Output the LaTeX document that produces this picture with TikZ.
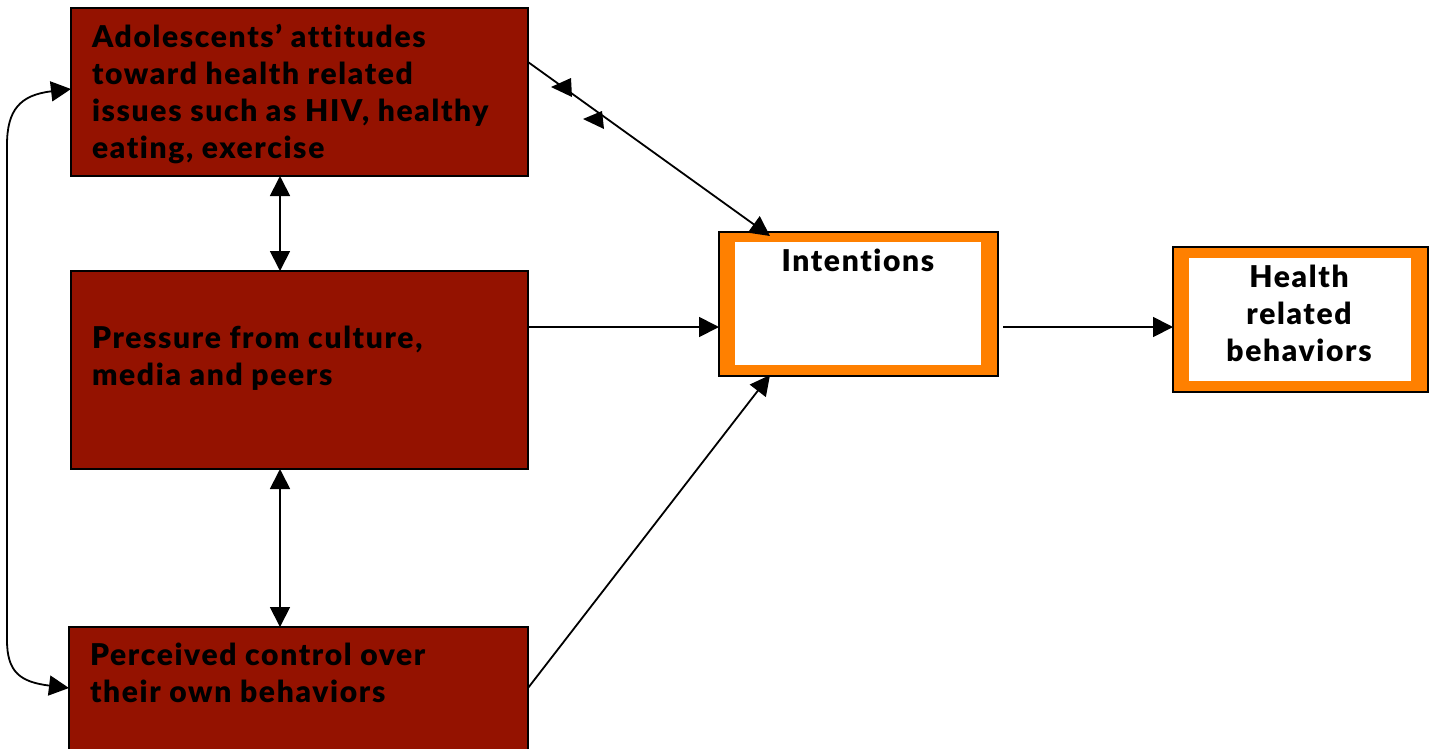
\documentclass[tikz,border=0pt]{standalone}
\usepackage{fontspec}
\setmainfont{Lato}
\newfontfamily\lblfont{Lato Black}[LetterSpace=5.5,Ligatures=NoCommon]
\usetikzlibrary{arrows.meta}
\definecolor{darkred}{RGB}{148,18,0}
\definecolor{orng}{RGB}{255,128,0}
\begin{document}
\begin{tikzpicture}[x=1pt,y=-1pt,
  redbox/.style={draw=black, line width=1.2pt, fill=darkred, inner sep=0pt, outer sep=0pt, anchor=north west},
  orbox/.style={draw=black, line width=1.2pt, fill=orng, inner sep=0pt, outer sep=0pt, anchor=north west},
  whbox/.style={fill=white, inner sep=0pt, outer sep=0pt, anchor=north west},
  lbl/.style={inner sep=0pt, outer sep=0pt, font=\lblfont\fontsize{30}{37}\selectfont},
  conn/.style={line width=1.8pt, -{Triangle[length=20pt,width=20pt]}},
  bconn/.style={line width=1.8pt, {Triangle[length=20pt,width=20pt]}-{Triangle[length=20pt,width=20pt]}}]
\useasboundingbox (0,0) rectangle (1432,748);
% boxes
\node[redbox, minimum width=457pt, minimum height=168pt] (A) at (71,8) {};
\node[redbox, minimum width=457pt, minimum height=198pt] (B) at (71,271) {};
\node[redbox, minimum width=459pt, minimum height=130pt] (C) at (69,627) {};
\node[orbox, minimum width=279pt, minimum height=144pt] (I) at (719,232) {};
\node[whbox, minimum width=246pt, minimum height=123pt] (Iin) at (735,242) {};
\node[orbox, minimum width=255pt, minimum height=145pt] (H) at (1173,247) {};
\node[whbox, minimum width=222pt, minimum height=123pt] (Hin) at (1189,258) {};
% labels (base anchor = baseline of last line)
\node[lbl, anchor=base west, align=left] (At) at (92,158) {Adolescents’ attitudes\\toward health related\\issues such as HIV, healthy\\eating, exercise};
\node[lbl, anchor=base west, align=left] (Bt) at (92,385) {Pressure from culture,\\media and peers};
\node[lbl, anchor=base west, align=left] (Ct) at (90,702) {Perceived control over\\their own behaviors};
\node[lbl, anchor=base] (It) at (858,271) {Intentions};
\node[lbl, anchor=base, align=center] (Ht) at (1299,361) {Health\\related\\behaviors};
% helper coordinates
\coordinate (vx) at (280,0);
\coordinate (hy) at (0,327);
\coordinate (ay) at (0,62);
\coordinate (cy) at (0,688);
\coordinate (tx) at (770,0);
\coordinate (ly) at (0,89);
% connectors
\draw[bconn] (vx |- A.south) -- (vx |- B.north);
\draw[bconn] (vx |- B.south) -- (vx |- C.north);
\draw[conn] (B.east |- hy) -- (I.west |- hy);
\draw[conn, shorten <=5pt] (I.east |- hy) -- (H.west |- hy);
\draw[conn] (C.east |- cy) -- ([yshift=1pt]tx |- I.south);
\draw[conn] (A.east |- ay) -- ([yshift=-4pt]tx |- I.north);
\draw[bconn] (A.west |- ly) .. controls (20,95) and (7,110) .. (7,145) -- (7,640) .. controls (7,672) and (20,682) .. (C.west |- cy);
% stray arrowheads on the top connector
\fill (551,87) -- (571,78) -- (572,97) -- cycle;
\fill (583,119) -- (602,111) -- (604,129) -- cycle;
\end{tikzpicture}
\end{document}
